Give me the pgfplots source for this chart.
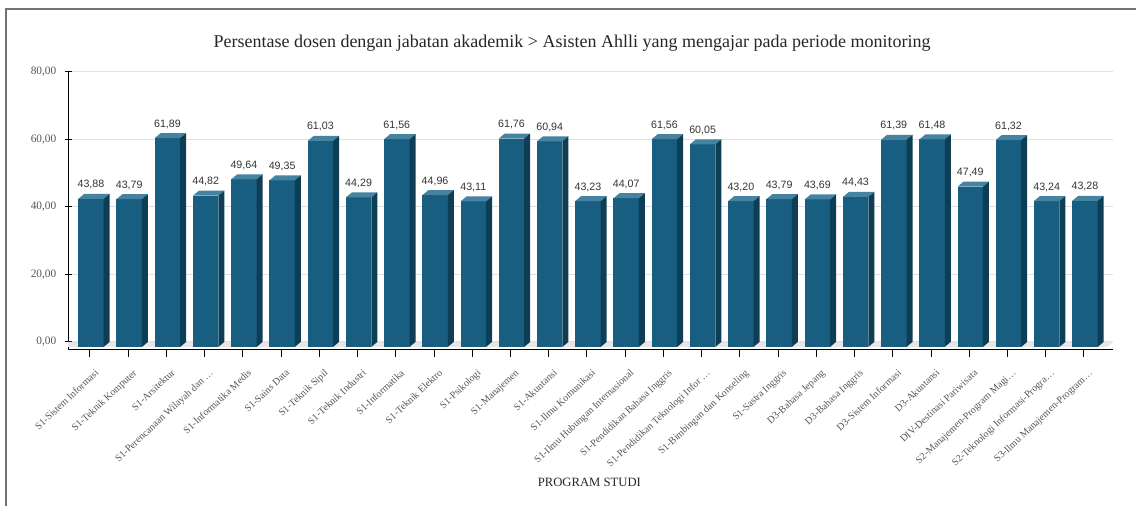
\documentclass[border=0pt]{standalone}
\usepackage{fontspec}
\setmainfont{Liberation Serif}
\newfontfamily\valfont{Liberation Sans}
\usepackage{pgfplots}
\usepackage{pgfplotstable}
\pgfplotsset{compat=1.18}

\definecolor{barfront}{HTML}{175E81}
\definecolor{bartop}{HTML}{4583A1}
\definecolor{barside}{HTML}{0E3E56}
\definecolor{floorc}{HTML}{E6E6E6}
\definecolor{labgray}{HTML}{555555}

\pgfplotstableread{
x v
0 43.88
1 43.79
2 61.89
3 44.82
4 49.64
5 49.35
6 61.03
7 44.29
8 61.56
9 44.96
10 43.11
11 61.76
12 60.94
13 43.23
14 44.07
15 61.56
16 60.05
17 43.20
18 43.79
19 43.69
20 44.43
21 61.39
22 61.48
23 47.49
24 61.32
25 43.24
26 43.28
}\datatable

\pgfdeclareplotmark{bar3d}{%
  \pgfmathsetmacro\bh{\barval*208.5/82.4}%
  \pgfmathsetmacro\xl{0.75-9.55}%
  \pgfmathsetmacro\xr{0.75+9.55}%
  \pgfmathsetmacro\xlb{\xl+4.5}%
  \pgfmathsetmacro\xrb{\xr+4.5}%
  \pgfmathsetmacro\fb{-3.75-\bh}%
  \pgfmathsetmacro\bb{-\bh}%
  % front face
  \pgfsetfillcolor{barfront}%
  \pgfpathrectanglecorners{\pgfpoint{\xl pt}{-3.75pt}}{\pgfpoint{\xr pt}{\fb pt}}%
  \pgfusepath{fill}%
  % top face
  \pgfsetfillcolor{bartop}%
  \pgfpathmoveto{\pgfpoint{\xl pt}{-3.75pt}}%
  \pgfpathlineto{\pgfpoint{\xr pt}{-3.75pt}}%
  \pgfpathlineto{\pgfpoint{\xrb pt}{0pt}}%
  \pgfpathlineto{\pgfpoint{\xlb pt}{0pt}}%
  \pgfpathclose
  \pgfusepath{fill}%
  % side face
  \pgfsetfillcolor{barside}%
  \pgfpathmoveto{\pgfpoint{\xr pt}{-3.75pt}}%
  \pgfpathlineto{\pgfpoint{\xrb pt}{0pt}}%
  \pgfpathlineto{\pgfpoint{\xrb pt}{\bb pt}}%
  \pgfpathlineto{\pgfpoint{\xr pt}{\fb pt}}%
  \pgfpathclose
  \pgfusepath{fill}%
}

\begin{document}
\begin{tikzpicture}
\useasboundingbox (0,0) rectangle (852pt,379.5pt);
\draw[color=black!55, line width=1.5pt] (4.5pt,0) -- (4.5pt,372.75pt) -- (852pt,372.75pt);
\node[font=\fontsize{13.5}{15}\selectfont, text=black!85] at (429pt,347pt)
  {Persentase dosen dengan jabatan akademik > Asisten Ahlli yang mengajar pada periode monitoring};
\node[font=\fontsize{9.5}{11}\selectfont, text=black!85] at (442pt,18pt) {PROGRAM STUDI};
\begin{axis}[
  at={(51pt,117pt)}, anchor=south west,
  scale only axis, width=783.75pt, height=208.5pt,
  xmin=-0.575, xmax=26.76, ymin=-2.4, ymax=80,
  clip=false,
  axis x line*=bottom, axis y line*=left,
  axis line style={black, line width=0.75pt},
  ytick={0,20,40,60,80},
  yticklabel={\pgfmathprintnumber[assume math mode=true,fixed,fixed zerofill,precision=2,use comma]{\tick}},
  y tick label style={font=\fontsize{8.5}{9}\selectfont, text=labgray},
  xtick={0,...,26},
  xticklabels={S1-Sistem Informasi,S1-Teknik Komputer,S1-Arsitektur,S1-Perencanaan Wilayah dan \ldots,S1-Informatika Medis,S1-Sains Data,S1-Teknik Sipil,S1-Teknik Industri,S1-Informatika,S1-Teknik Elektro,S1-Psikologi,S1-Manajemen,S1-Akuntansi,S1-Ilmu Komunikasi,S1-Ilmu Hubungan Internasional,S1-Pendidikan Bahasa Inggris,S1-Pendidikan Teknologi Infor \ldots,S1-Bimbingan dan Konseling,S1-Sastra Inggris,D3-Bahasa Jepang,D3-Bahasa Inggris,D3-Sistem Informasi,D3-Akuntansi,DIV-Destinasi Pariwisata,S2-Manajemen-Program Magi\ldots,S2-Teknologi Informasi-Progra\ldots,S3-Ilmu Manajemen-Program\ldots},
  x tick label style={rotate=43, anchor=north east, font=\fontsize{7.5}{8}\selectfont, text=labgray, inner sep=1pt, xshift=-2.5pt, yshift=-7.5pt},
  tick align=outside,
  major tick length=5.25pt,
  tick style={black, line width=0.75pt},
  ytick style={xshift=2.8pt},
  minor tick num=0,
  ymajorgrids,
  grid style={black!12, line width=0.75pt},
]
\addplot[fill=floorc, draw=none] coordinates {(-0.575,0) (26.76,0) (26.6,-1.48) (-0.575,-1.48)} -- cycle;
\addplot[
  only marks, mark=bar3d,
  visualization depends on={rawy \as \barval},
  point meta=rawy,
  nodes near coords={\pgfmathprintnumber[assume math mode=true,fixed,fixed zerofill,precision=2,use comma]{\pgfplotspointmeta}},
  every node near coord/.append style={anchor=base, yshift=4.5pt, xshift=0.75pt, font=\valfont\fontsize{8}{9}\selectfont, text=black!80, inner sep=0pt},
] table[x=x, y=v] {\datatable};
\end{axis}
\end{tikzpicture}
\end{document}
